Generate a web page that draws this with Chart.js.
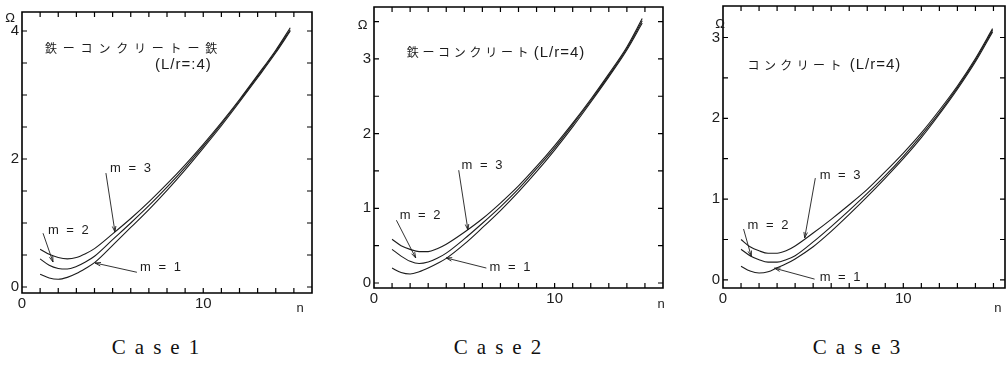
<!DOCTYPE html>
<html><head><meta charset="utf-8">
<script src="https://cdn.jsdelivr.net/npm/chart.js@4"></script>
<style>
body{margin:0;background:#fff;width:1007px;height:366px;overflow:hidden;position:relative;font-family:"Liberation Sans",Arial,sans-serif}
canvas{position:absolute;top:0}
.case{position:absolute;top:335px;font-family:"Liberation Serif",serif;font-size:21px;letter-spacing:9px;color:#111;transform:translateX(-50%);white-space:nowrap}
</style></head><body>
<canvas id="c1" width="335" height="320" style="left:0px"></canvas>
<canvas id="c2" width="335" height="320" style="left:335px"></canvas>
<canvas id="c3" width="337" height="320" style="left:670px"></canvas>
<div class="case" id="t1" style="left:160px"></div>
<div class="case" id="t2" style="left:502px"></div>
<div class="case" id="t3" style="left:861px"></div>
<script>
// ---- data ----
const caseTitles = ['Case1', 'Case2', 'Case3'];
const seriesLabels = ['m = 1', 'm = 2', 'm = 3'];
const xTickLabels = [0, 10];
const yTickLabels1 = [0, 2, 4];
const yTickLabels23 = [0, 1, 2, 3];

const n1 = [1, 1.5, 2, 2.5, 3, 3.5, 4, 5, 6, 7, 8, 9, 10, 11, 12, 13, 14, 14.8];
const c1m1 = [0.20, 0.14, 0.12, 0.15, 0.21, 0.29, 0.38, 0.65, 0.93, 1.21, 1.51, 1.83, 2.17, 2.52, 2.89, 3.27, 3.66, 4.00];
const c1m2 = [0.44, 0.34, 0.29, 0.28, 0.32, 0.39, 0.48, 0.74, 1.00, 1.27, 1.56, 1.87, 2.20, 2.55, 2.91, 3.29, 3.68, 4.02];
const c1m3 = [0.59, 0.51, 0.46, 0.44, 0.46, 0.52, 0.60, 0.83, 1.07, 1.33, 1.61, 1.91, 2.23, 2.57, 2.93, 3.31, 3.70, 4.05];

const n2 = [1, 1.5, 2, 2.5, 3, 3.5, 4, 5, 6, 7, 8, 9, 10, 11, 12, 13, 14, 14.85];
const c2m1 = [0.20, 0.14, 0.12, 0.15, 0.20, 0.26, 0.33, 0.52, 0.74, 0.97, 1.22, 1.49, 1.78, 2.09, 2.42, 2.76, 3.12, 3.48];
const c2m2 = [0.45, 0.36, 0.29, 0.26, 0.28, 0.33, 0.40, 0.59, 0.80, 1.02, 1.26, 1.53, 1.81, 2.12, 2.44, 2.78, 3.14, 3.51];
const c2m3 = [0.585, 0.50, 0.45, 0.42, 0.42, 0.46, 0.52, 0.68, 0.86, 1.07, 1.30, 1.56, 1.84, 2.14, 2.46, 2.80, 3.16, 3.54];

const n3 = [1, 1.5, 2, 2.5, 3, 3.5, 4, 5, 6, 7, 8, 9, 10, 11, 12, 13, 14, 14.95];
const c3m1 = [0.17, 0.11, 0.085, 0.10, 0.15, 0.20, 0.26, 0.41, 0.60, 0.81, 1.03, 1.26, 1.50, 1.76, 2.05, 2.36, 2.70, 3.07];
const c3m2 = [0.38, 0.30, 0.25, 0.22, 0.22, 0.25, 0.30, 0.47, 0.66, 0.86, 1.07, 1.29, 1.53, 1.79, 2.07, 2.38, 2.72, 3.09];
const c3m3 = [0.50, 0.41, 0.36, 0.33, 0.33, 0.36, 0.42, 0.58, 0.75, 0.93, 1.12, 1.34, 1.57, 1.82, 2.10, 2.40, 2.74, 3.11];

const panelTexts = [
  ['鉄ーコンクリートー鉄', '(L/r=:4)'],
  ['鉄ーコンクリート', '(L/r=4)'],
  ['コンクリート', '(L/r=4)']
];

// ---- helpers ----
const INK = '#1c1c1c';
const zip = (xs, ys) => xs.map((v, i) => ({x: v, y: ys[i]}));

function drawFrame(chart) {
  const ctx = chart.ctx, a = chart.chartArea, xs = chart.scales.x, ys = chart.scales.y;
  ctx.save();
  ctx.strokeStyle = '#000'; ctx.lineWidth = 1.6;
  const l = Math.round(a.left), r = Math.round(a.right);
  const t = Math.round(a.top), b = Math.round(a.bottom);
  ctx.beginPath();
  ctx.rect(l, t, r - l, b - t);
  ctx.stroke();
  const L = 5;
  ctx.lineWidth = 1.2;
  ctx.beginPath();
  xs.ticks.forEach(tk => {
    const px = xs.getPixelForValue(tk.value);
    if (px < l + 1 || px > r - 1) return;
    ctx.moveTo(px, b); ctx.lineTo(px, b - L);
    ctx.moveTo(px, t); ctx.lineTo(px, t + L);
  });
  ys.ticks.forEach(tk => {
    const py = ys.getPixelForValue(tk.value);
    if (py < t + 1 || py > b - 1) return;
    ctx.moveTo(l, py); ctx.lineTo(l + L, py);
    ctx.moveTo(r, py); ctx.lineTo(r - L, py);
  });
  ctx.stroke();
  ctx.restore();
}

const notesPlugin = {
  id: 'notes',
  afterDatasetsDraw(chart, args, opts) {
    drawFrame(chart);
    const ctx = chart.ctx, x = chart.scales.x, y = chart.scales.y;
    ctx.save();
    ctx.fillStyle = INK; ctx.strokeStyle = INK; ctx.lineWidth = 0.9;
    (opts.items || []).forEach(it => {
      if (it.kind === 'text') {
        ctx.font = it.font;
        ctx.letterSpacing = it.spacing || '0px';
        ctx.textAlign = it.align || 'left';
        ctx.textBaseline = 'middle';
        ctx.fillText(it.text, x.getPixelForValue(it.x), y.getPixelForValue(it.y));
        ctx.letterSpacing = '0px';
      } else if (it.kind === 'chars') {
        ctx.font = it.font; ctx.textAlign = 'left'; ctx.textBaseline = 'middle';
        const x0 = x.getPixelForValue(it.x), y0 = y.getPixelForValue(it.y);
        [...it.text].forEach((c, i) => ctx.fillText(c, x0 + i * it.pitch, y0));
      } else if (it.kind === 'arrow') {
        const x1 = x.getPixelForValue(it.x1), y1 = y.getPixelForValue(it.y1);
        const x2 = x.getPixelForValue(it.x2), y2 = y.getPixelForValue(it.y2);
        const ang = Math.atan2(y2 - y1, x2 - x1), h = 6, w = 0.3;
        ctx.beginPath();
        ctx.moveTo(x1, y1); ctx.lineTo(x2, y2);
        ctx.moveTo(x2 - h * Math.cos(ang - w), y2 - h * Math.sin(ang - w));
        ctx.lineTo(x2, y2);
        ctx.lineTo(x2 - h * Math.cos(ang + w), y2 - h * Math.sin(ang + w));
        ctx.stroke();
      }
    });
    ctx.restore();
  }
};

function makePanel(id, p) {
  const ds = [p.m1, p.m2, p.m3].map((ys, i) => ({
    label: seriesLabels[i],
    data: zip(p.n, ys),
    borderColor: INK, borderWidth: 1.1, pointRadius: 0,
    showLine: true, fill: false, cubicInterpolationMode: 'monotone'
  }));
  const W = p.w, H = 320;
  const tickFont = {family: '"Liberation Sans", Arial, sans-serif', size: 15};
  return new Chart(document.getElementById(id), {
    type: 'scatter',
    data: {datasets: ds},
    options: {
      responsive: false, animation: false, maintainAspectRatio: false,
      layout: {padding: {left: 0, top: p.area.top, right: W - p.area.right, bottom: 0}},
      plugins: {
        legend: {display: false}, tooltip: {enabled: false}, title: {display: false},
        notes: {items: p.notes}
      },
      scales: {
        x: {
          type: 'linear', min: 0, max: p.xmax,
          grid: {display: false, drawTicks: false}, border: {display: false},
          ticks: {stepSize: 1, autoSkip: false, maxRotation: 0, includeBounds: false, padding: 2,
            color: INK, font: tickFont,
            callback: v => xTickLabels.includes(v) ? String(v) : ''},
          afterFit: s => { s.height = H - p.area.bottom; s.paddingLeft = 0; s.paddingRight = 0; }
        },
        y: {
          type: 'linear', min: p.ymin, max: p.ymax,
          grid: {display: false, drawTicks: false}, border: {display: false},
          ticks: {stepSize: 0.5, autoSkip: false, includeBounds: false, padding: 3,
            color: INK, font: tickFont,
            callback: v => p.yLabels.includes(v) ? String(v) : ''},
          afterFit: s => { s.width = p.area.left; s.paddingTop = 0; s.paddingBottom = 0; }
        }
      }
    },
    plugins: [notesPlugin]
  });
}

const jp = '12px "Noto Sans CJK JP", sans-serif';
const lr = '15px "Liberation Sans", Arial, sans-serif';
const mf = '13px "Liberation Sans", Arial, sans-serif';
const sym = '13px "Liberation Sans", Arial, sans-serif';

makePanel('c1', {
  w: 335, n: n1, m1: c1m1, m2: c1m2, m3: c1m3,
  area: {left: 22, top: 12, right: 312, bottom: 293},
  xmax: 16, ymin: -0.094, ymax: 4.297, yLabels: yTickLabels1,
  notes: [
    {kind: 'chars', text: panelTexts[0][0], x: 1.27, y: 3.73, pitch: 17.8, font: jp},
    {kind: 'text', text: panelTexts[0][1], x: 7.34, y: 3.47, font: lr, spacing: '1px'},
    {kind: 'text', text: seriesLabels[2], x: 4.86, y: 1.86, font: mf, spacing: '2px'},
    {kind: 'arrow', x1: 4.63, y1: 1.78, x2: 5.13, y2: 0.86},
    {kind: 'text', text: seriesLabels[1], x: 1.43, y: 0.89, font: mf, spacing: '2px'},
    {kind: 'arrow', x1: 1.16, y1: 0.84, x2: 1.71, y2: 0.39},
    {kind: 'text', text: seriesLabels[0], x: 6.51, y: 0.30, font: mf, spacing: '2px'},
    {kind: 'arrow', x1: 6.34, y1: 0.23, x2: 4.03, y2: 0.375},
    {kind: 'text', text: 'Ω', x: -0.66, y: 4.2, font: sym, align: 'center'},
    {kind: 'text', text: 'n', x: 15.34, y: -0.33, font: sym, align: 'center'}
  ]
});
makePanel('c2', {
  w: 335, n: n2, m1: c2m1, m2: c2m2, m3: c2m3,
  area: {left: 39, top: 7, right: 328, bottom: 288},
  xmax: 16, ymin: -0.067, ymax: 3.695, yLabels: yTickLabels23,
  notes: [
    {kind: 'chars', text: panelTexts[1][0], x: 1.81, y: 3.08, pitch: 15.7, font: jp},
    {kind: 'text', text: panelTexts[1][1], x: 8.84, y: 3.08, font: lr, spacing: '1px'},
    {kind: 'text', text: seriesLabels[2], x: 4.85, y: 1.57, font: mf, spacing: '2px'},
    {kind: 'arrow', x1: 4.69, y1: 1.51, x2: 5.2, y2: 0.71},
    {kind: 'text', text: seriesLabels[1], x: 1.42, y: 0.91, font: mf, spacing: '2px'},
    {kind: 'arrow', x1: 1.24, y1: 0.84, x2: 2.31, y2: 0.335},
    {kind: 'text', text: seriesLabels[0], x: 6.4, y: 0.21, font: mf, spacing: '2px'},
    {kind: 'arrow', x1: 6.22, y1: 0.20, x2: 4.0, y2: 0.335},
    {kind: 'text', text: 'Ω', x: -0.63, y: 3.45, font: sym, align: 'center'},
    {kind: 'text', text: 'n', x: 15.9, y: -0.29, font: sym, align: 'center'}
  ]
});
makePanel('c3', {
  w: 337, n: n3, m1: c3m1, m2: c3m2, m3: c3m3,
  area: {left: 53, top: 6, right: 335, bottom: 288},
  xmax: 15.64, ymin: -0.1, ymax: 3.39, yLabels: yTickLabels23,
  notes: [
    {kind: 'chars', text: panelTexts[2][0], x: 1.36, y: 2.66, pitch: 16.4, font: jp},
    {kind: 'text', text: panelTexts[2][1], x: 7.03, y: 2.66, font: lr, spacing: '1px'},
    {kind: 'text', text: seriesLabels[2], x: 5.36, y: 1.29, font: mf, spacing: '2px'},
    {kind: 'arrow', x1: 5.12, y1: 1.26, x2: 4.53, y2: 0.52},
    {kind: 'text', text: seriesLabels[1], x: 1.36, y: 0.68, font: mf, spacing: '2px'},
    {kind: 'arrow', x1: 1.14, y1: 0.63, x2: 1.57, y2: 0.29},
    {kind: 'text', text: seriesLabels[0], x: 5.36, y: 0.025, font: mf, spacing: '2px'},
    {kind: 'arrow', x1: 5.08, y1: 0.01, x2: 2.86, y2: 0.145},
    {kind: 'text', text: 'Ω', x: -0.16, y: 3.16, font: sym, align: 'center'},
    {kind: 'text', text: 'n', x: 15.25, y: -0.35, font: sym, align: 'center'}
  ]
});

caseTitles.forEach((t, i) => { document.getElementById('t' + (i + 1)).textContent = t; });
</script>
</body></html>
